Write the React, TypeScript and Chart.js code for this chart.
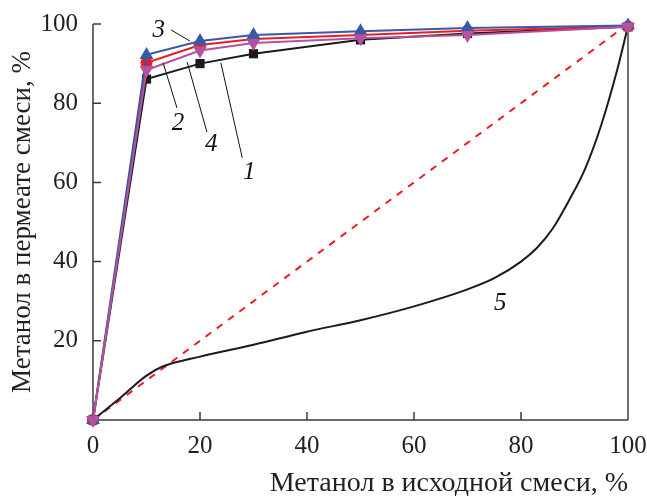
import React, { useEffect, useRef } from "react";
import { Chart, registerables } from "chart.js";

Chart.register(...registerables);

// ---- data ----
const X_POINTS = [0, 10, 20, 30, 50, 70, 100];
const SERIES_1 = [0, 86.1, 90.0, 92.5, 96.0, 97.6, 99.3];
const SERIES_2 = [0, 90.2, 94.7, 96.2, 97.2, 98.3, 99.4];
const SERIES_3 = [0, 92.2, 95.7, 97.2, 98.2, 99.0, 99.6];
const SERIES_4 = [0, 88.4, 93.3, 95.2, 96.4, 97.2, 99.3];

const CURVE5_X = [0, 5, 10, 13, 20, 30, 40, 50, 60, 70, 75, 80, 83, 86, 89, 92, 95, 98, 100];
const CURVE5_Y = [0, 5.5, 11.2, 13.5, 16, 19, 22.3, 25.2, 28.7, 33, 35.8, 40, 43.5, 48.5, 55.5, 63.5, 74.5, 88.5, 99.5];

const DIAG_X = [0, 100];
const DIAG_Y = [0, 100];

const X_TICKS = [0, 20, 40, 60, 80, 100];
const Y_TICKS = [20, 40, 60, 80, 100];

const X_TITLE = "Метанол в исходной смеси, %";
const Y_TITLE = "Метанол в пермеате смеси, %";

// curve number labels (data coordinates)
const LABEL_TEXT = ["1", "2", "3", "4", "5"];
const LABEL_X = [29.2, 15.9, 12.3, 22.1, 76.1];
const LABEL_Y = [62.6, 75.0, 98.5, 69.7, 29.5];
// leader lines: [x1, y1, x2, y2] in data coordinates
const LEADER_1 = [27.9, 66.2, 23.9, 90.2];
const LEADER_2 = [15.7, 78.8, 13.1, 90.2];
const LEADER_3 = [14.6, 98.5, 18.1, 95.7];
const LEADER_4 = [21.3, 72.7, 17.6, 90.4];

const SERIF = "'Liberation Serif', 'Times New Roman', serif";
const AXIS_COLOR = "#3a3a3a";
const TEXT_COLOR = "#231f20";

const toXY = (xs: number[], ys: number[]) => xs.map((x, i) => ({ x, y: ys[i] }));

const frame = {
  id: "frame",
  beforeDatasetsDraw(chart: any) {
    const { ctx, chartArea, scales } = chart;
    const xs = scales.x;
    const ys = scales.y;
    ctx.save();
    ctx.strokeStyle = AXIS_COLOR;
    ctx.lineWidth = 1.5;
    ctx.beginPath();
    ctx.moveTo(chartArea.left, chartArea.top);
    ctx.lineTo(chartArea.left, chartArea.bottom);
    ctx.lineTo(chartArea.right, chartArea.bottom);
    ctx.stroke();
    ctx.strokeStyle = "#111";
    ctx.lineWidth = 1.2;
    ctx.beginPath();
    ctx.moveTo(chartArea.right, chartArea.bottom);
    ctx.lineTo(chartArea.right, chartArea.top);
    ctx.stroke();
    ctx.strokeStyle = AXIS_COLOR;
    ctx.lineWidth = 1.5;
    ctx.beginPath();
    for (const t of X_TICKS) {
      if (t === 0 || t === 100) continue;
      const px = xs.getPixelForValue(t);
      ctx.moveTo(px, chartArea.bottom);
      ctx.lineTo(px, chartArea.bottom - 8);
    }
    for (const t of Y_TICKS) {
      const py = ys.getPixelForValue(t);
      ctx.moveTo(chartArea.left, py);
      ctx.lineTo(chartArea.left + 8, py);
    }
    ctx.stroke();
    ctx.restore();
  },
  afterDatasetsDraw(chart: any) {
    const { ctx, scales } = chart;
    const xs = scales.x;
    const ys = scales.y;
    ctx.save();
    ctx.strokeStyle = "#111";
    ctx.lineWidth = 1;
    ctx.beginPath();
    for (const l of [LEADER_1, LEADER_2, LEADER_3, LEADER_4]) {
      ctx.moveTo(xs.getPixelForValue(l[0]), ys.getPixelForValue(l[1]));
      ctx.lineTo(xs.getPixelForValue(l[2]), ys.getPixelForValue(l[3]));
    }
    ctx.stroke();
    ctx.fillStyle = "#111";
    ctx.font = `italic 25px ${SERIF}`;
    ctx.textAlign = "center";
    ctx.textBaseline = "middle";
    LABEL_TEXT.forEach((t, i) => {
      ctx.fillText(t, xs.getPixelForValue(LABEL_X[i]), ys.getPixelForValue(LABEL_Y[i]));
    });
    ctx.restore();
  },
};

export default function App() {
  const ref = useRef<HTMLCanvasElement>(null);
  useEffect(() => {
    if (!ref.current) return;
    const common = { showLine: true, borderWidth: 2, clip: false as any, tension: 0 };
    const chart = new Chart(ref.current, {
      type: "scatter",
      data: {
        datasets: [
          {
            ...common,
            label: "4",
            data: toXY(X_POINTS, SERIES_4),
            borderColor: "#b4529f",
            backgroundColor: "#b4529f",
            pointStyle: "triangle",
            rotation: 180,
            pointRadius: 8,
            pointBorderWidth: 0,
          } as any,
          {
            ...common,
            label: "3",
            data: toXY(X_POINTS, SERIES_3),
            borderColor: "#3a58a6",
            backgroundColor: "#3a58a6",
            pointStyle: "triangle",
            pointRadius: 8,
            pointBorderWidth: 0,
          },
          {
            ...common,
            label: "2",
            data: toXY(X_POINTS, SERIES_2),
            borderColor: "#ec1c24",
            backgroundColor: "#ec1c24",
            pointStyle: "circle",
            pointRadius: 6,
            pointBorderWidth: 0,
          },
          {
            ...common,
            label: "1",
            data: toXY(X_POINTS, SERIES_1),
            borderColor: "#1c1a1b",
            backgroundColor: "#1c1a1b",
            pointStyle: "rect",
            pointRadius: 6.5,
            pointBorderWidth: 0,
          },
          {
            ...common,
            label: "5",
            data: toXY(CURVE5_X, CURVE5_Y),
            borderColor: "#1c1a1b",
            pointRadius: 0,
            cubicInterpolationMode: "monotone",
          } as any,
          {
            ...common,
            label: "diag",
            data: toXY(DIAG_X, DIAG_Y),
            borderColor: "#ec1c24",
            borderDash: [7, 7],
            pointRadius: 0,
          },
        ],
      },
      options: {
        animation: false,
        responsive: false,
        devicePixelRatio: 1,
        layout: { padding: { top: 24, right: 19, left: 0, bottom: 0 } },
        plugins: { legend: { display: false }, tooltip: { enabled: false } },
        scales: {
          x: {
            type: "linear",
            min: 0,
            max: 100,
            afterFit: (s: any) => {
              s.height = 76;
            },
            afterBuildTicks: (s: any) => {
              s.ticks = X_TICKS.map((v) => ({ value: v }));
            },
            grid: { display: false, drawTicks: false },
            border: { display: false },
            ticks: {
              padding: 0,
              color: TEXT_COLOR,
              font: { family: SERIF, size: 25, lineHeight: 2.1 },
              maxRotation: 0,
            },
            title: {
              display: true,
              text: X_TITLE,
              align: "end",
              color: TEXT_COLOR,
              font: { family: SERIF, size: 28, lineHeight: 0.85 },
              padding: { top: 0, bottom: 0 },
            },
          },
          y: {
            type: "linear",
            min: 0,
            max: 100,
            afterFit: (s: any) => {
              s.width = 93;
            },
            afterBuildTicks: (s: any) => {
              s.ticks = Y_TICKS.map((v) => ({ value: v }));
            },
            grid: { display: false, drawTicks: false },
            border: { display: false },
            ticks: {
              padding: 15,
              color: TEXT_COLOR,
              font: { family: SERIF, size: 25, lineHeight: 0.7 },
            },
            title: {
              display: true,
              text: Y_TITLE,
              align: "center",
              color: TEXT_COLOR,
              font: { family: SERIF, size: 27, lineHeight: 1.1 },
              padding: { top: 8, bottom: 0 },
            },
          },
        },
      },
      plugins: [frame],
    });
    return () => chart.destroy();
  }, []);
  return (
    <div style={{ position: "fixed", left: 0, top: 0, width: 647, height: 496, background: "#fff" }}>
      <canvas ref={ref} width={647} height={496} style={{ display: "block" }} />
    </div>
  );
}
